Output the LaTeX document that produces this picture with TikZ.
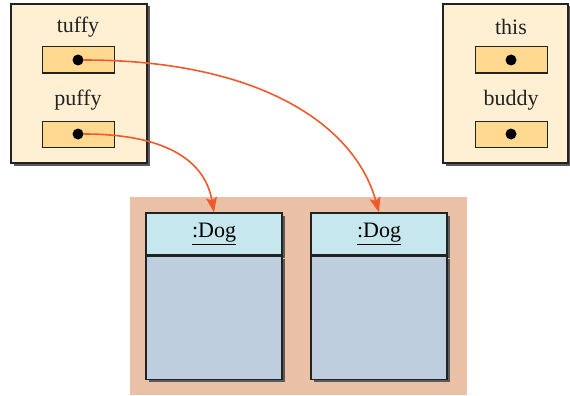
\documentclass[tikz,border=0pt]{standalone}
\usepackage{fontspec}
\setmainfont{Liberation Serif}
\usepackage{tikz}
\usetikzlibrary{arrows.meta,positioning,shadows}
\definecolor{refCream}{HTML}{FFF0D4}
\definecolor{refSlot}{HTML}{FFD990}
\definecolor{refSalmon}{HTML}{EAC1A7}
\definecolor{refHead}{HTML}{C7E7EF}
\definecolor{refBody}{HTML}{BFCEDE}
\definecolor{refInk}{HTML}{222222}
\definecolor{refShade}{HTML}{5A5A5A}
\definecolor{refArrow}{HTML}{EE5A2C}
\tikzset{
  framebox/.style={rectangle,draw=refInk,fill=refCream,line width=1.2pt,
    drop shadow={shadow xshift=2.5pt,shadow yshift=-2.5pt,fill=refShade,opacity=1}},
  slotbox/.style={rectangle,draw=refInk,fill=refSlot,line width=1pt,
    minimum width=72pt,minimum height=26pt},
  varlabel/.style={font=\fontsize{22}{24}\selectfont,text=refInk},
  dot/.style={circle,fill=black,inner sep=0pt,minimum size=11pt},
  objhead/.style={rectangle,draw=refInk,fill=refHead,line width=1.2pt,
    minimum width=136pt,minimum height=42pt,font=\fontsize{22}{24}\selectfont,
    drop shadow={shadow xshift=2.5pt,shadow yshift=-2.5pt,fill=refShade,opacity=1}},
  objbody/.style={rectangle,draw=refInk,fill=refBody,line width=1.2pt,
    minimum width=136pt,minimum height=123pt,
    drop shadow={shadow xshift=2.5pt,shadow yshift=-2.5pt,fill=refShade,opacity=1}},
  ref/.style={-{Stealth[length=15pt,width=11pt,inset=3pt]},draw=refArrow,line width=1.6pt}
}
\begin{document}
\begin{tikzpicture}[x=1pt,y=-1pt]
  \useasboundingbox (0,0) rectangle (570,396);
  % heap area
  \node[rectangle,fill=refSalmon,minimum width=337pt,minimum height=198pt,inner sep=0pt]
    (heap) at (298.5,296) {};
  % left frame
  \node[framebox,minimum width=136pt,minimum height=159pt] (mainframe) at (79,83.5) {};
  \node[varlabel] (tuffylbl) at (78,27) {tuffy};
  \node[slotbox] (tuffy) at (78,60) {};
  \node[dot] (tuffydot) at (tuffy.center) {};
  \node[varlabel] (puffylbl) at (78,100) {puffy};
  \node[slotbox] (puffy) at (78,134) {};
  \node[dot] (puffydot) at (puffy.center) {};
  % right frame
  \node[framebox,minimum width=125pt,minimum height=159pt] (methodframe) at (505.5,83.5) {};
  \node[varlabel] (thislbl) at (511,27) {this};
  \node[slotbox] (this) at (511,60) {};
  \node[dot] (thisdot) at (this.center) {};
  \node[varlabel] (buddylbl) at (511,100) {buddy};
  \node[slotbox] (buddy) at (511,134) {};
  \node[dot] (buddydot) at (buddy.center) {};
  % objects
  \node[objhead] (dogA) at (214,234) {\underline{:Dog}};
  \node[objbody,below=0pt of dogA] (dogAbody) {};
  \node[objhead] (dogB) at (379,234) {\underline{:Dog}};
  \node[objbody,below=0pt of dogB] (dogBbody) {};
  % references
  \draw[ref] (tuffydot) .. controls (260,60) and (355,125) .. (dogB.north);
  \draw[ref] (puffydot) .. controls (165,134) and (205,160) .. (dogA.north);
\end{tikzpicture}
\end{document}
